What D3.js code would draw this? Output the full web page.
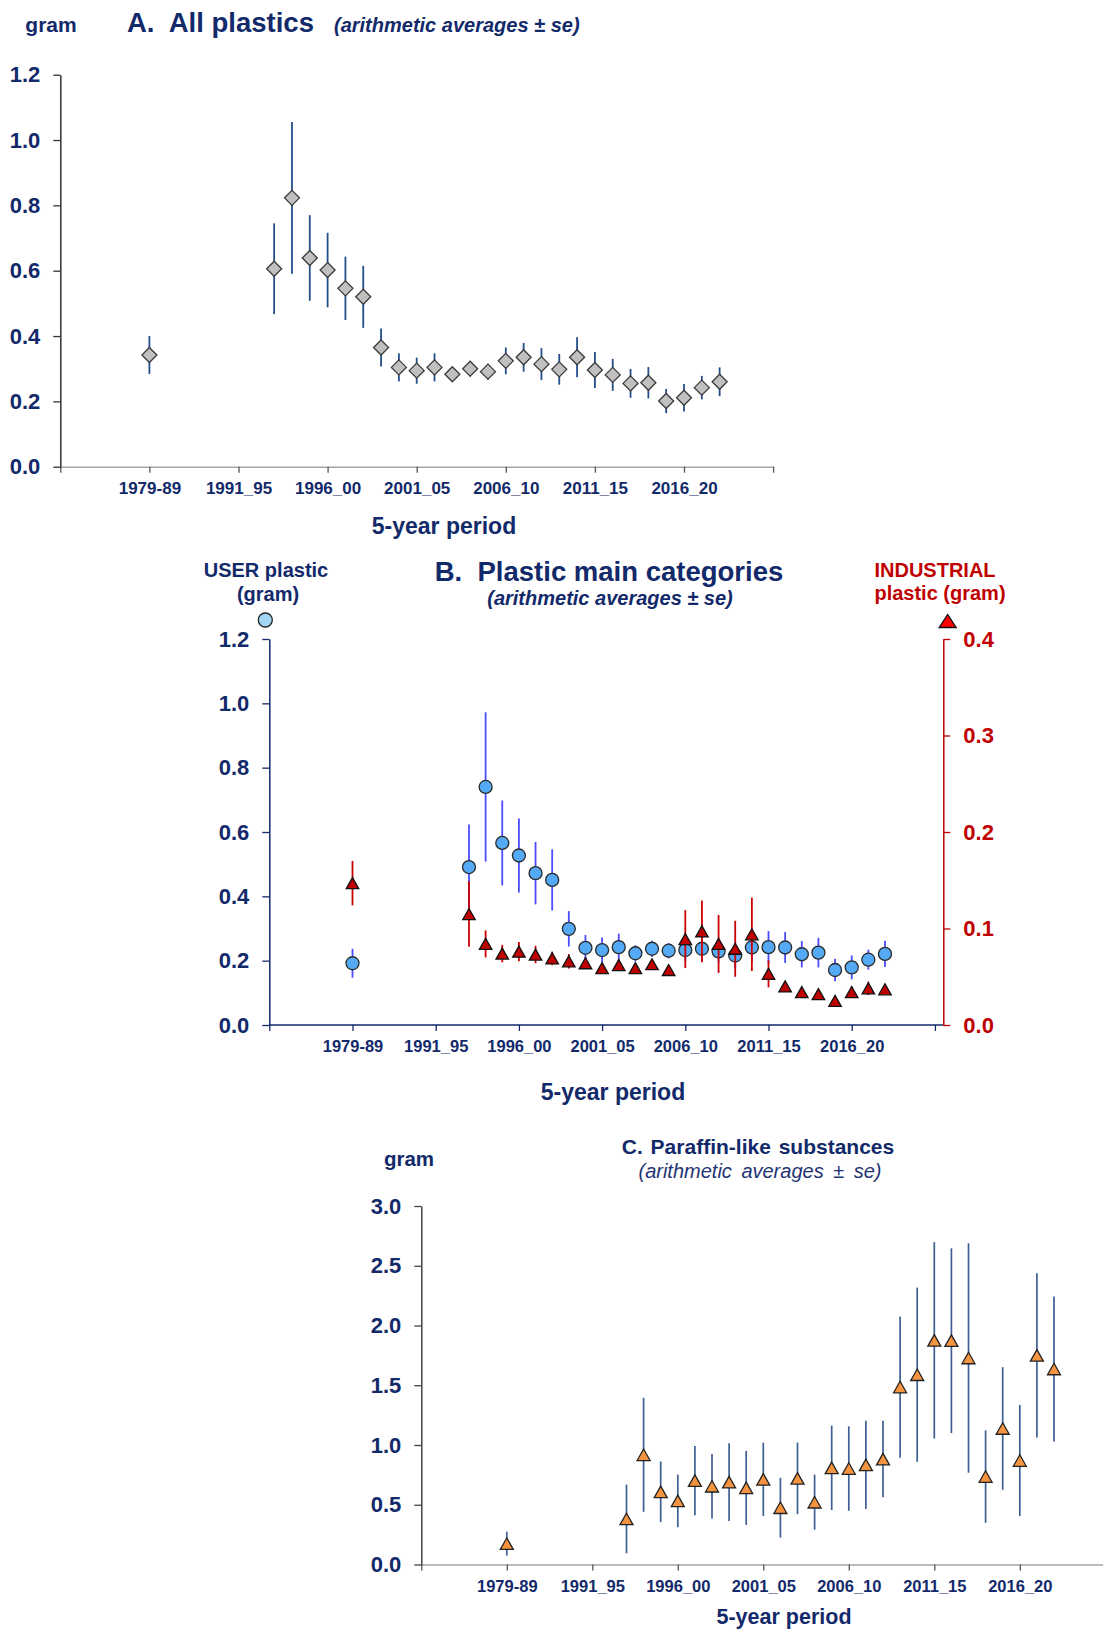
<!DOCTYPE html>
<html>
<head>
<meta charset="utf-8">
<script src="https://cdn.jsdelivr.net/npm/d3@7"></script>
<style>
  body { margin: 0; background: #fff; }
  text { font-family: "Liberation Sans", Arial, sans-serif; }
</style>
</head>
<body>
<svg id="chart" width="1103" height="1631"></svg>
<script>
// periods (moving 5-year windows), first one is the 1979-89 pool
var periods = ['1979-89', '1993_97', '1994_98', '1995_99', '1996_00', '1997_01', '1998_02', '1999_03',
  '2000_04', '2001_05', '2002_06', '2003_07', '2004_08', '2005_09', '2006_10', '2007_11', '2008_12',
  '2009_13', '2010_14', '2011_15', '2012_16', '2013_17', '2014_18', '2015_19', '2016_20', '2017_21', '2018_22']
var tickLabels = ['1979-89', '1991_95', '1996_00', '2001_05', '2006_10', '2011_15', '2016_20']

// A. all plastics (gram)
var allMean = [0.342, 0.606, 0.823, 0.639, 0.602, 0.546, 0.520, 0.365, 0.304, 0.294, 0.304, 0.283, 0.300, 0.291,
  0.324, 0.335, 0.314, 0.298, 0.335, 0.296, 0.281, 0.255, 0.257, 0.201, 0.211, 0.242, 0.260]
var allSe = [0.058, 0.139, 0.232, 0.131, 0.114, 0.097, 0.095, 0.058, 0.043, 0.040, 0.043, 0.019, 0.024, 0.024,
  0.041, 0.044, 0.049, 0.047, 0.061, 0.055, 0.049, 0.044, 0.048, 0.037, 0.042, 0.036, 0.044]

// B. user plastic (left axis) and industrial plastic (right axis)
var userMean = [0.192, 0.491, 0.740, 0.566, 0.527, 0.472, 0.451, 0.299, 0.240, 0.233, 0.242, 0.223, 0.237, 0.231,
  0.233, 0.237, 0.229, 0.216, 0.241, 0.242, 0.241, 0.220, 0.225, 0.171, 0.179, 0.203, 0.221]
var userSe = [0.045, 0.132, 0.232, 0.132, 0.115, 0.097, 0.095, 0.055, 0.040, 0.039, 0.042, 0.025, 0.025, 0.024,
  0.035, 0.040, 0.035, 0.040, 0.045, 0.050, 0.048, 0.041, 0.046, 0.035, 0.037, 0.031, 0.041]
var indMean = [0.147, 0.115, 0.084, 0.074, 0.076, 0.073, 0.069, 0.066, 0.064, 0.059, 0.062, 0.059, 0.063, 0.057,
  0.089, 0.097, 0.084, 0.079, 0.094, 0.053, 0.040, 0.034, 0.032, 0.025, 0.034, 0.038, 0.037]
var indSe = [0.023, 0.034, 0.014, 0.009, 0.010, 0.009, 0.007, 0.0075, 0.006, 0.005, 0.005, 0.004, 0.004, 0.003,
  0.030, 0.032, 0.030, 0.029, 0.038, 0.014, 0.003, 0.002, 0.002, 0.002, 0.006, 0.007, 0.003]

// C. paraffin-like substances (gram)
var parMean = [0.174, 0.381, 0.918, 0.608, 0.532, 0.702, 0.655, 0.689, 0.641, 0.712, 0.475, 0.721, 0.521, 0.809,
  0.803, 0.834, 0.882, 1.485, 1.588, 1.876, 1.873, 1.728, 0.736, 1.138, 0.870, 1.750, 1.636]
var parSe = [0.10, 0.287, 0.477, 0.254, 0.22, 0.29, 0.27, 0.325, 0.31, 0.307, 0.25, 0.30, 0.23, 0.353,
  0.353, 0.369, 0.32, 0.591, 0.729, 0.822, 0.773, 0.96, 0.387, 0.513, 0.465, 0.687, 0.607]

var NAVY = '#12296a'
var RED = '#c00000'
var svg = d3.select('#chart')

function slot (p) {
  return p === '1979-89' ? 0 : +p.slice(0, 4) - 1986
}

function rows (mean, se) {
  return periods.map(function (p, i) { return { p: p, m: mean[i], se: se[i] } })
}

function diamondPath (d) { return 'M0,' + (-d) + 'L' + d + ',0L0,' + d + 'L' + (-d) + ',0Z' }
function trianglePath (w, h) { return 'M0,' + (-h / 2) + 'L' + (w / 2) + ',' + (h / 2) + 'L' + (-w / 2) + ',' + (h / 2) + 'Z' }
function circlePath (r) { return d3.arc()({ innerRadius: 0, outerRadius: r, startAngle: 0, endAngle: 2 * Math.PI }) }

function label (x, y, str, size, opts) {
  opts = opts || {}
  return svg.append('text')
    .attr('x', x).attr('y', y)
    .attr('text-anchor', opts.anchor || 'middle')
    .attr('font-size', size)
    .attr('font-weight', opts.weight || 'bold')
    .attr('font-style', opts.style || 'normal')
    .attr('fill', opts.fill || NAVY)
    .attr('word-spacing', opts.ws || 0)
    .text(str)
}

function drawXAxis (x, y0, lineColor, tickColor, fontSize) {
  var ax = d3.axisBottom(x)
    .tickValues(d3.range(-5, 36, 5))
    .tickFormat(function (v) {
      var l = tickLabels.filter(function (t) { return slot(t) === v })[0]
      return l || ''
    })
    .tickSize(6).tickPadding(9.7).tickSizeOuter(0)
  var g = svg.append('g').attr('transform', 'translate(0,' + y0 + ')').call(ax)
  g.select('.domain').attr('stroke', lineColor).attr('stroke-width', 1.6)
  g.selectAll('.tick line').attr('stroke', tickColor).attr('stroke-width', 1.3)
  g.selectAll('text').attr('fill', NAVY).attr('font-size', fontSize).attr('font-weight', 'bold')
    .attr('font-family', '"Liberation Sans", Arial, sans-serif')
  return g
}

function drawYAxis (axis, x0, values, color, lineColor) {
  axis.tickValues(values).tickFormat(d3.format('.1f')).tickSize(7).tickPadding(13).tickSizeOuter(0)
  var g = svg.append('g').attr('transform', 'translate(' + x0 + ',0)').call(axis)
  g.select('.domain').attr('stroke', lineColor).attr('stroke-width', 1.5)
  g.selectAll('.tick line').attr('stroke', lineColor).attr('stroke-width', 1.3)
  g.selectAll('text').attr('fill', color).attr('font-size', 22).attr('font-weight', 'bold')
    .attr('font-family', '"Liberation Sans", Arial, sans-serif')
  return g
}

function drawSeries (data, x, y, barColor, barWidth, shape, fill, stroke) {
  var g = svg.append('g')
  g.selectAll('line.err').data(data).enter().append('line')
    .attr('class', 'err')
    .attr('x1', function (d) { return x(slot(d.p)) })
    .attr('x2', function (d) { return x(slot(d.p)) })
    .attr('y1', function (d) { return y(d.m + d.se) })
    .attr('y2', function (d) { return y(Math.max(0, d.m - d.se)) })
    .attr('stroke', barColor)
    .attr('stroke-width', barWidth)
  g.selectAll('path.mark').data(data).enter().append('path')
    .attr('class', 'mark')
    .attr('d', shape)
    .attr('transform', function (d) { return 'translate(' + x(slot(d.p)) + ',' + y(d.m) + ')' })
    .attr('fill', fill)
    .attr('stroke', stroke)
    .attr('stroke-width', 1.3)
}

// ---------- A ----------
var xA = d3.scaleLinear().domain([-5, 35]).range([60.3, 773.1])
var yA = d3.scaleLinear().domain([0, 1.2]).range([466.7, 74.7])
drawXAxis(xA, yA(0), '#a6a6a6', '#555', 17)
drawYAxis(d3.axisLeft(yA), xA(-5), d3.range(0, 1.21, 0.2), NAVY, '#333')
drawSeries(rows(allMean, allSe), xA, yA, '#234e8a', 1.8, diamondPath(7.5), '#c0c0c0', '#3a3a3a')

label(51, 32, 'gram', 21)
label(127, 32, 'A.\u00a0 All plastics', 27.5, { anchor: 'start' })
label(334, 32, '(arithmetic averages \u00b1 se)', 20, { anchor: 'start', style: 'italic' })
label(444, 534, '5-year period', 23)

// ---------- B ----------
var xB = d3.scaleLinear().domain([-5, 35]).range([269.3, 934.9])
var yB = d3.scaleLinear().domain([0, 1.2]).range([1025, 639])
var yBr = d3.scaleLinear().domain([0, 0.4]).range([1025, 639])
var rightX = xB(35) + 8.4
var gxB = drawXAxis(xB, yB(0), NAVY, NAVY, 16.5)
gxB.select('.domain').remove()
svg.append('line')
  .attr('x1', xB(-5)).attr('x2', rightX)
  .attr('y1', yB(0)).attr('y2', yB(0))
  .attr('stroke', NAVY).attr('stroke-width', 1.6)
drawYAxis(d3.axisLeft(yB), xB(-5), d3.range(0, 1.21, 0.2), NAVY, NAVY)
drawYAxis(d3.axisRight(yBr), rightX, d3.range(0, 0.41, 0.1), RED, RED)

drawSeries(rows(userMean, userSe), xB, yB, '#4b4bff', 1.8, circlePath(6.5), '#55aaf5', '#2a2a2a')
drawSeries(rows(indMean, indSe), xB, yBr, '#cc0000', 1.8, trianglePath(12.5, 11), RED, '#111')

label(266, 577, 'USER plastic', 20)
label(268, 601, '(gram)', 20)
svg.append('path').attr('d', circlePath(7)).attr('transform', 'translate(' + (xB(-5) - 4) + ',620)')
  .attr('fill', '#a3d6f5').attr('stroke', '#222').attr('stroke-width', 1.3)
label(609, 581, 'B.\u00a0 Plastic main categories', 27.5)
label(610, 605, '(arithmetic averages \u00b1 se)', 20, { style: 'italic' })
label(935, 577, 'INDUSTRIAL', 20, { fill: RED })
label(940, 600, 'plastic (gram)', 20, { fill: RED })
svg.append('path').attr('d', trianglePath(17, 13)).attr('transform', 'translate(' + (rightX + 4.4) + ',621)')
  .attr('fill', '#ff0000').attr('stroke', '#111').attr('stroke-width', 1.3)
label(613, 1100, '5-year period', 23)

// ---------- C ----------
var xC = d3.scaleLinear().domain([-5, 35]).range([421.3, 1105.3])
var yC = d3.scaleLinear().domain([0, 3]).range([1564.5, 1206])
drawXAxis(xC, yC(0), '#a6a6a6', '#555', 16.5)
drawYAxis(d3.axisLeft(yC), xC(-5), d3.range(0, 3.01, 0.5), NAVY, '#444')
drawSeries(rows(parMean, parSe), xC, yC, '#3d5f94', 1.7, trianglePath(13, 11.5), '#f59440', '#222')

label(409, 1166, 'gram', 20.5)
label(758, 1154, 'C. Paraffin-like substances', 21, { ws: 2 })
label(760, 1178, '(arithmetic averages \u00b1 se)', 20, { weight: 'normal', style: 'italic', ws: 4, fill: '#1f3474' })
label(784, 1624, '5-year period', 21.5)
</script>
</body>
</html>
